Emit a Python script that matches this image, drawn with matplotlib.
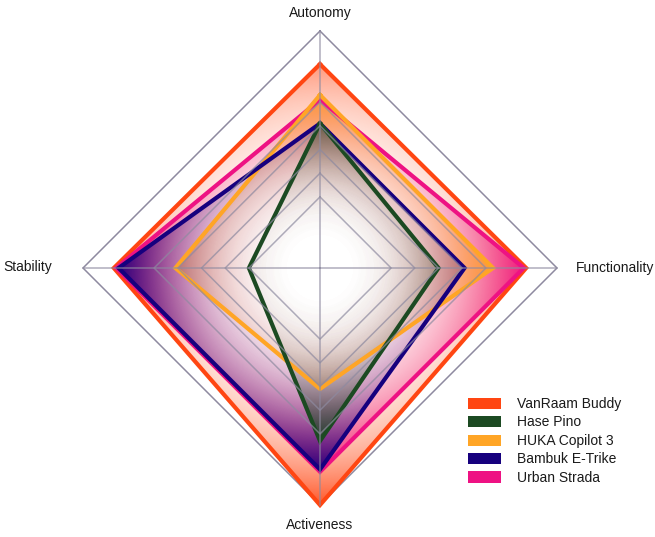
"""E-trike comparison radar chart with radial-gradient fills."""

import numpy as np
import matplotlib
matplotlib.use("Agg")
import matplotlib.pyplot as plt
from matplotlib.patches import Polygon, Patch

# data
axes_labels = ["Autonomy", "Functionality", "Activeness", "Stability"]
names = ["VanRaam Buddy", "Hase Pino", "HUKA Copilot 3", "Bambuk E-Trike", "Urban Strada"]
colors = ["#ff4612", "#1c4a22", "#ffa526", "#16007e", "#ee1283"]
vanraam = [8.6, 8.7, 10.0, 8.7]
hase = [6.1, 5.0, 7.3, 3.0]
huka = [7.3, 7.3, 5.1, 6.1]
bambuk = [6.1, 6.1, 8.5, 8.5]
urban = [7.1, 8.6, 8.6, 8.6]
values = [vanraam, hase, huka, bambuk, urban]
draw_order = [0, 4, 2, 3, 1]
grid_levels = [3, 4, 5, 6, 7, 10]

plt.rcParams["font.family"] = ["Liberation Sans", "DejaVu Sans"]

W, H = 655, 537
unit = 23.7          # pixels per value unit
cx, cy = 320, 268    # centre in pixels

fig = plt.figure(figsize=(W / 100, H / 100), dpi=100)
ax = fig.add_axes([0, 0, 1, 1])
ax.set_xlim(-cx / unit, (W - cx) / unit)
ax.set_ylim(-(H - cy) / unit, cy / unit)
ax.axis("off")

# axis directions: top, right, bottom, left
angles = np.array([np.pi / 2, 0.0, -np.pi / 2, np.pi])
dirs = np.column_stack([np.cos(angles), np.sin(angles)])

# gradient grid
n = 700
gx = np.linspace(-11, 11, n)
gy = np.linspace(-11, 11, n)
XX, YY = np.meshgrid(gx, gy)
RR = np.hypot(XX, YY)

for i in draw_order:
    v = np.array(values[i])
    pts = dirs * v[:, None]
    rmax = v.max()
    rgb = matplotlib.colors.to_rgb(colors[i])
    img = np.zeros((n, n, 4))
    img[..., :3] = rgb
    img[..., 3] = np.clip(RR / rmax, 0, 1) ** 3.3 * 0.92
    im = ax.imshow(img, extent=(-11, 11, -11, 11), origin="lower",
                   interpolation="bilinear", zorder=2)
    poly = Polygon(pts, closed=True, facecolor="none", edgecolor="none")
    ax.add_patch(poly)
    im.set_clip_path(poly)
    closed = np.vstack([pts, pts[:1]])
    ax.plot(closed[:, 0], closed[:, 1], color=colors[i], lw=3.0,
            solid_joinstyle="miter", zorder=3)

# grid on top, muted
for lv in grid_levels:
    ring = dirs * lv
    ring = np.vstack([ring, ring[:1]])
    ax.plot(ring[:, 0], ring[:, 1], color="#8e8aa0", lw=1.1,
            alpha=0.7 if lv < 10 else 1.0, zorder=4 if lv < 10 else 1)
for d in dirs:
    ax.plot([0, d[0] * 10], [0, d[1] * 10], color="#8e8aa0", lw=1.1,
            alpha=0.7, zorder=4)

# axis labels
fs = 10
ax.text(0, 10.75, axes_labels[0], ha="center", va="center", fontsize=fs,
        color="#1a1a1a")
ax.text(10.8, 0, axes_labels[1], ha="left", va="center", fontsize=fs,
        color="#1a1a1a")
ax.text(0, -10.85, axes_labels[2], ha="center", va="center", fontsize=fs,
        color="#1a1a1a")
ax.text(-11.3, 0.05, axes_labels[3], ha="right", va="center", fontsize=fs,
        color="#1a1a1a")

handles = [Patch(facecolor=c, edgecolor="none", label=nm)
           for c, nm in zip(colors, names)]
leg = ax.legend(handles=handles, loc="upper left",
                bbox_to_anchor=(468 / W, 1 - 397 / H),
                bbox_transform=fig.transFigure,
                frameon=False, fontsize=fs, handlelength=2.4, handleheight=0.85,
                handletextpad=1.1, labelspacing=0.32, borderpad=0,
                borderaxespad=0)
for t in leg.get_texts():
    t.set_color("#1a1a1a")

fig.savefig("out.png", dpi=100)
